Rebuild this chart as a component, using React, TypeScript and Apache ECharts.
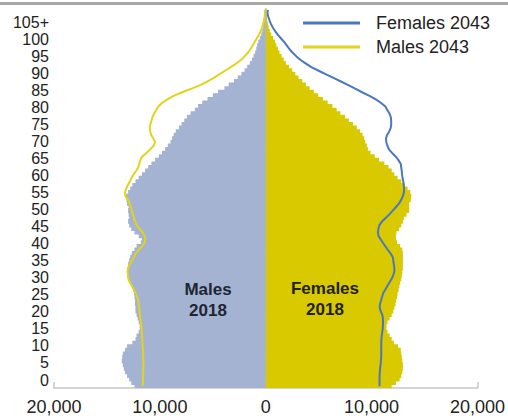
import React, { useEffect, useRef } from "react";
import * as echarts from "echarts";

// Age categories 0..105+
const ageCategories: string[] = Array.from({ length: 106 }, (_, i) => (i === 105 ? "105+" : String(i)));

// Tick labels
const yTickAges = [0, 5, 10, 15, 20, 25, 30, 35, 40, 45, 50, 55, 60, 65, 70, 75, 80, 85, 90, 95, 100, 105];
const xTickLabels = ["20,000", "10,000", "0", "10,000", "20,000"];

// Population by single year of age (0..105+)
const males2018 = [
  12400, 12700, 12900, 13100, 13300, 13400, 13500, 13600, 13550, 13500,
  13300, 13100, 12600, 12300, 12200, 12000, 11900, 11900, 12000, 12100,
  12200, 12300, 12300, 12350, 12350, 12400, 12450, 12500, 12600, 12800,
  12950, 13000, 13050, 13000, 13000, 12900, 12800, 12650, 12400, 12200,
  11800, 11700, 12000, 12400, 12700, 12900, 13000, 12900, 12950, 13000,
  12950, 13100, 13150, 13200, 13000, 12800, 12600, 12300, 12000, 11700,
  11400, 11100, 10800, 10450, 10100, 9800, 9500, 9250, 9000, 8850,
  8700, 8500, 8200, 7950, 7700, 7450, 7100, 6700, 6400, 6000,
  5500, 5000, 4500, 3900, 3500, 3000, 2650, 2300, 2000, 1750,
  1500, 1300, 1150, 1000, 900, 820, 700, 550, 420, 320,
  240, 170, 120, 80, 50, 60,
];

const females2018 = [
  11900, 12300, 12650, 12800, 12900, 12950, 12950, 12900, 12850, 12800,
  12750, 12500, 12100, 11900, 11700, 11500, 11400, 11400, 11500, 11700,
  11900, 12050, 12150, 12250, 12320, 12400, 12450, 12550, 12620, 12700,
  12800, 12850, 12900, 12950, 12950, 12950, 12950, 12950, 12900, 12700,
  12400, 12300, 12300, 12350, 12600, 12800, 12950, 13050, 13300, 13550,
  13550, 13550, 13700, 13750, 13650, 13400, 13100, 12800, 12450, 12150,
  11900, 11600, 11200, 10700, 10300, 9900, 9650, 9550, 9400, 9300,
  9150, 8900, 8600, 8250, 7850, 7500, 7050, 6700, 6300, 5850,
  5400, 4950, 4550, 4150, 3800, 3450, 3100, 2800, 2500, 2200,
  1900, 1700, 1500, 1300, 1150, 1000, 880, 700, 520, 380,
  270, 190, 130, 90, 60, 80,
];

const males2043 = [
  11650, 11600, 11600, 11580, 11570, 11570, 11560, 11560, 11570, 11580,
  11600, 11620, 11650, 11660, 11680, 11700, 11720, 11750, 11800, 11850,
  11880, 11920, 11960, 12000, 12050, 12150, 12300, 12450, 12650, 12850,
  12980, 13020, 13050, 13000, 12850, 12650, 12450, 12300, 12000, 11700,
  11450, 11380, 11450, 11650, 11950, 12200, 12350, 12450, 12550, 12650,
  12750, 12850, 13000, 13250, 13300, 13200, 13050, 12850, 12700, 12500,
  12250, 12050, 11950, 11850, 11700, 11300, 10950, 10600, 10450, 10600,
  10800, 10900, 10950, 10900, 10800, 10700, 10550, 10350, 10150, 9800,
  9300, 8700, 7900, 7000, 6200, 5500, 4900, 4400, 3850, 3300,
  2800, 2350, 2000, 1700, 1450, 1250, 1050, 850, 650, 480,
  350, 250, 170, 110, 70, 80,
];

const females2043 = [
  10750, 10750, 10750, 10750, 10780, 10800, 10850, 10880, 10900, 10910,
  10910, 10910, 10910, 10920, 10950, 11000, 11050, 11070, 11080, 11070,
  11000, 10850, 10760, 10800, 10900, 11000, 11100, 11300, 11500, 11700,
  11900, 12050, 12150, 12150, 12100, 12050, 12000, 11800, 11550, 11300,
  11070, 10850, 10650, 10600, 10650, 10750, 11000, 11350, 11700, 12000,
  12300, 12600, 12800, 12950, 13050, 13070, 13050, 13000, 12930, 12880,
  12850, 12800, 12760, 12550, 12300, 11950, 11650, 11500, 11400, 11350,
  11450, 11650, 11800, 11850, 11850, 11820, 11700, 11500, 11300, 10900,
  10400, 9800, 9100, 8450, 7800, 7100, 6400, 5700, 5000, 4300,
  3800, 3300, 2900, 2550, 2250, 2000, 1750, 1450, 1150, 900,
  680, 500, 360, 250, 160, 200,
];

const MALE_FILL = "#a4b3d1";
const FEMALE_FILL = "#d8c900";
const FEMALE_LINE = "#4a78c0";
const MALE_LINE = "#e2d41c";
const SEAM = "#bebd6c";
const TEXT = "#222222";
const FONT = "'Liberation Sans', Arial, sans-serif";

export default function App() {
  const ref = useRef<HTMLDivElement>(null);

  useEffect(() => {
    if (!ref.current) return;
    const chart = echarts.init(ref.current, undefined, { renderer: "svg" });
    const neg = (arr: number[]) => arr.map((v) => -v);

    chart.setOption({
      animation: false,
      backgroundColor: "#ffffff",
      grid: [
        { left: 54, right: 27, top: 8, bottom: 31, containLabel: false },
        { left: 54, right: 27, top: 22, bottom: 39, containLabel: false },
      ],
      xAxis: [
        {
          type: "value",
          gridIndex: 0,
          min: -20000,
          max: 20000,
          interval: 10000,
          axisLine: { show: true, lineStyle: { color: "#d4d4d4", width: 2 } },
          axisTick: { show: true, inside: true, length: 6, lineStyle: { color: "#c8c8c8", width: 1.5 } },
          splitLine: { show: false },
          axisLabel: {
            margin: 10,
            fontSize: 18,
            fontFamily: FONT,
            color: TEXT,
            formatter: (v: number) => {
              const idx = Math.round((v + 20000) / 10000);
              return xTickLabels[idx] ?? "";
            },
          },
        },
        { type: "value", gridIndex: 1, show: false, min: 0, max: 1 },
      ],
      yAxis: [
        {
          type: "category",
          gridIndex: 0,
          data: ageCategories,
          show: false,
        },
        {
          type: "value",
          gridIndex: 1,
          min: 0,
          max: 105,
          interval: 5,
          axisLine: { show: false },
          axisTick: { show: false },
          splitLine: { show: false },
          axisLabel: {
            margin: 5,
            fontSize: 16,
            lineHeight: 16,
            fontFamily: FONT,
            color: TEXT,
            formatter: (v: number) => (yTickAges.indexOf(v) >= 0 ? (v === 105 ? "105+" : String(v)) : ""),
          },
        },
      ],
      series: [
        {
          name: "Males 2018",
          type: "bar",
          xAxisIndex: 0,
          yAxisIndex: 0,
          data: neg(males2018),
          barWidth: 5,
          barGap: "-100%",
          itemStyle: { color: MALE_FILL },
          z: 2,
        },
        {
          name: "Females 2018",
          type: "bar",
          xAxisIndex: 0,
          yAxisIndex: 0,
          data: females2018,
          barWidth: 5,
          barGap: "-100%",
          itemStyle: { color: FEMALE_FILL },
          z: 2,
          markLine: {
            silent: true,
            symbol: "none",
            label: { show: false },
            lineStyle: { color: SEAM, width: 1.5, type: "solid" },
            data: [[{ coord: [0, "0"] }, { coord: [0, "105+"] }]],
          },
        },
        {
          name: "Males 2043",
          type: "line",
          xAxisIndex: 0,
          yAxisIndex: 0,
          data: neg(males2043),
          symbol: "none",
          lineStyle: { color: MALE_LINE, width: 2 },
          z: 3,
        },
        {
          name: "Females 2043",
          type: "line",
          xAxisIndex: 0,
          yAxisIndex: 0,
          data: females2043,
          symbol: "none",
          lineStyle: { color: FEMALE_LINE, width: 2 },
          z: 3,
        },
      ],
      graphic: [
        { type: "rect", shape: { x: 0, y: 2, width: 508, height: 3 }, style: { fill: "#a8a8a8" }, z: 10 },
        { type: "line", shape: { x1: 303, y1: 23, x2: 360, y2: 23 }, style: { stroke: FEMALE_LINE, lineWidth: 3 }, z: 10 },
        { type: "line", shape: { x1: 303, y1: 47, x2: 360, y2: 47 }, style: { stroke: MALE_LINE, lineWidth: 3 }, z: 10 },
        {
          type: "text",
          x: 376,
          y: 23,
          style: { text: "Females 2043", font: `18px ${FONT}`, fill: TEXT, textVerticalAlign: "middle", textAlign: "left" },
          z: 10,
        },
        {
          type: "text",
          x: 376,
          y: 47,
          style: { text: "Males 2043", font: `18px ${FONT}`, fill: TEXT, textVerticalAlign: "middle", textAlign: "left" },
          z: 10,
        },
        {
          type: "text",
          x: 208,
          y: 300,
          style: {
            text: "Males\n2018",
            font: `bold 17px ${FONT}`,
            fill: "#1e2533",
            textAlign: "center",
            textVerticalAlign: "middle",
            lineHeight: 21,
          },
          z: 10,
        },
        {
          type: "text",
          x: 325,
          y: 299,
          style: {
            text: "Females\n2018",
            font: `bold 17px ${FONT}`,
            fill: "#1e2210",
            textAlign: "center",
            textVerticalAlign: "middle",
            lineHeight: 21,
          },
          z: 10,
        },
      ],
    });

    return () => chart.dispose();
  }, []);

  return (
    <div
      ref={ref}
      style={{ position: "absolute", left: 0, top: 0, width: 508, height: 419 }}
    />
  );
}
